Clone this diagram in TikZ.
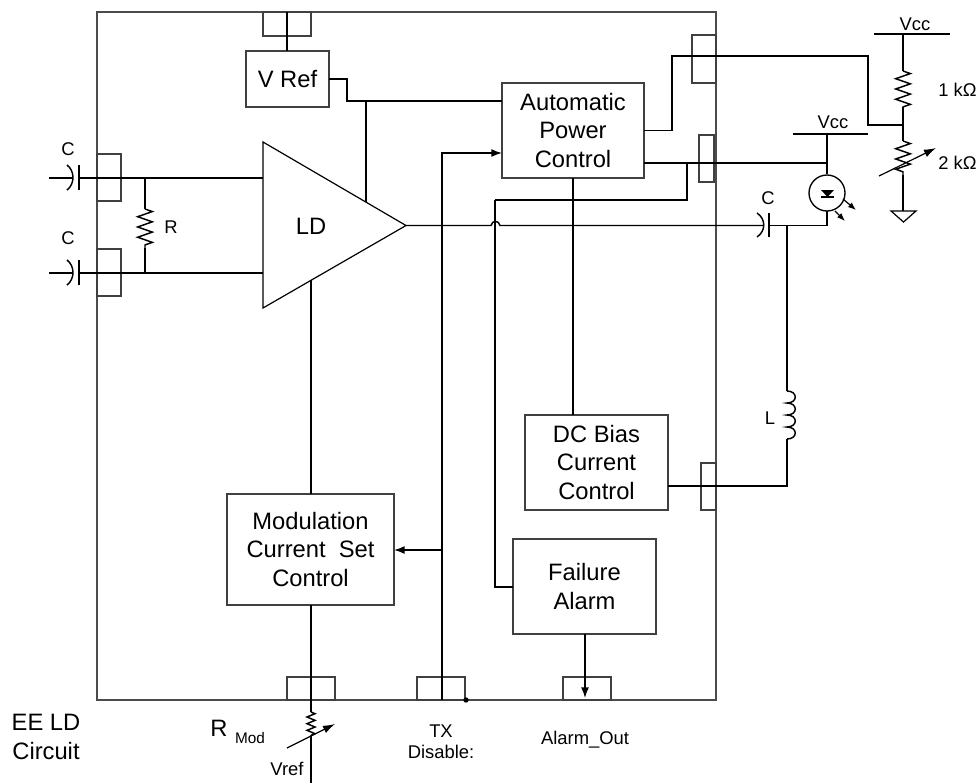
\documentclass[tikz,border=0pt]{standalone}
\usepackage{fontspec}
\setmainfont{Liberation Sans}
\usepackage{tikz}
\usetikzlibrary{arrows.meta}
\usetikzlibrary{positioning}
\usetikzlibrary{decorations.pathmorphing}
\tikzset{
    wire/.style={draw=black, line width=1.1pt},
    chipbox/.style={draw=black!70, line width=.8pt, inner sep=0pt, outer sep=0pt},
    pinbox/.style={draw=black!75, line width=.8pt, inner sep=0pt, outer sep=0pt},
    blockbox/.style={draw=black!75, line width=.9pt, inner sep=0pt, outer sep=0pt, align=center,
        font=\fontsize{17.8}{21.7}\selectfont},
    biglabel/.style={inner sep=0pt, align=center, font=\fontsize{17.8}{21.7}\selectfont},
    smalllabel/.style={inner sep=0pt, align=center, font=\fontsize{13.8}{16}\selectfont},
    resistor/.style={wire, decorate, decoration={zigzag, amplitude=5.5pt, segment length=7.7pt}},
    tinyresistor/.style={wire, decorate, decoration={zigzag, amplitude=3pt, segment length=5pt}},
    signal/.style={wire, -{Latex[length=8pt,width=6pt]}},
    tune/.style={draw=black, line width=.9pt, -{Latex[length=9pt,width=6pt]}},
    glow/.style={draw=black, line width=.9pt, -{Latex[length=6pt,width=4.5pt]}},
}
\begin{document}
\begin{tikzpicture}[x=.75pt,y=-.75pt]
\useasboundingbox (0,0) rectangle (977,783);

% chip outline and pins
\node (chip) [chipbox, minimum width=464.25pt, minimum height=516pt] at (406.5,356) {};
\node (pinTop) [pinbox, minimum width=36pt, minimum height=18pt] at (287,24) {};
\node (pinPwr) [pinbox, minimum width=18pt, minimum height=36pt] at (704,59) {};
\node (pinMon) [pinbox, minimum width=11.25pt, minimum height=35.25pt] at (706.5,158.5) {};
\node (pinBias) [pinbox, minimum width=11.25pt, minimum height=35.25pt] at (708.5,486.5) {};
\node (pinInA) [pinbox, minimum width=18pt, minimum height=35.25pt] at (109,177.5) {};
\node (pinInB) [pinbox, minimum width=18pt, minimum height=35.25pt] at (109,272.5) {};
\node (pinMod) [pinbox, minimum width=36pt, minimum height=17.25pt] at (311,688.5) {};
\node (pinTx) [pinbox, minimum width=36pt, minimum height=17.25pt] at (441,688.5) {};
\node (pinAlarm) [pinbox, minimum width=36pt, minimum height=17.25pt] at (587,688.5) {};

% blocks
\node (vref) [blockbox, minimum width=62.25pt, minimum height=42pt] at (287.5,79) {V Ref};
\node (apc) [blockbox, minimum width=106.5pt, minimum height=71.25pt] at (573,130.5) {Automatic\hspace{3pt}\\Power\hspace{3pt}\\Control\hspace{3pt}};
\node (dcbias) [blockbox, minimum width=107.25pt, minimum height=71.25pt] at (596.5,462.5) {DC Bias\\Current\\Control};
\node (modctl) [blockbox, minimum width=125.25pt, minimum height=83.25pt] at (310.5,549.5) {Modulation\hspace{3pt}\\Current\ \ Set\hspace{3pt}\\Control\hspace{3pt}};
\node (fail) [blockbox, minimum width=107.25pt, minimum height=71.25pt] at (584.5,586.5) {Failure\\Alarm};

% amplifier
\coordinate (ldTop) at (263,142);
\coordinate (ldBot) at (263,308);
\coordinate (ldOut) at (406,225.5);
\draw [draw=black, line width=.9pt] (ldTop) -- (ldBot) -- (ldOut) -- cycle;
\node (ldlabel) [biglabel] at (311,226) {LD};

% junctions
\coordinate (refIn) at (502,101);
\coordinate (refUp) at (366,101);
\coordinate (refLd) at (366,202);
\coordinate (txIn) at (502,153);
\coordinate (txTop) at (442,153);
\coordinate (txBot) at (442,700);
\coordinate (txMod) at (442,550);
\coordinate (ldTap) at (311,280);
\coordinate (rmodTop) at (311,712);
\coordinate (rmodBot) at (311,736);
\coordinate (rmodEnd) at (311,783);
\coordinate (monOut) at (644,163);
\coordinate (monTap) at (687,163);
\coordinate (monLow) at (687,200);
\coordinate (failTop) at (495,200);
\coordinate (failIn) at (513,587);
\coordinate (alarmOut) at (585,634);
\coordinate (alarmTip) at (585,698);
\coordinate (hopA) at (491,225.5);
\coordinate (hopB) at (500,225.5);
\coordinate (capAIn) at (49,178);
\coordinate (capAOut) at (73,178);
\coordinate (capAPl) at (79,178);
\coordinate (capBIn) at (49,273);
\coordinate (capBOut) at (73,273);
\coordinate (capBPl) at (79,273);
\coordinate (ldInA) at (263,178);
\coordinate (ldInB) at (263,273);
\coordinate (rInTop) at (145,178);
\coordinate (rInA) at (145,209);
\coordinate (rInB) at (145,248);
\coordinate (rInBot) at (145,273);
\coordinate (capOutL) at (763,225.5);
\coordinate (capOutR) at (769,225.5);
\coordinate (ledBot) at (827,225.5);
\coordinate (chokeTap) at (787,225.5);
\coordinate (chokeA) at (787,391);
\coordinate (chokeB) at (787,439);
\coordinate (chokeEnd) at (787,486);

% internal wiring
\draw [wire] (pinTop.north) -- (pinTop.north |- vref.north);
\draw [wire] (vref.east) -| (347,101) -- (refIn);
\draw [wire] (refUp) -- (refLd);
\draw [wire] (apc.east) -| (672,56) -| (868,125) -- (903,125);
\draw [wire] (monOut) -- (827,163);
\draw [wire] (monTap) -- (monLow) -- (failTop);
\draw [wire] (failTop) -- (495,587) -- (failIn);
\draw [wire] (apc.south) -- (apc.south |- dcbias.north);
\draw [signal] (txBot) -- (txTop) -- (txIn);
\draw [signal] (txMod) -- (modctl.east |- txMod);
\draw [signal] (alarmOut) -- (alarmTip);
\draw [wire] (ldTap) -- (ldTap |- modctl.north);
\draw [wire] (ldTap |- modctl.south) -- (rmodTop);
\fill (466,700) circle (2pt);

% inputs
\draw [wire] (capAIn) -- (capAOut);
\draw [wire] (capBIn) -- (capBOut);
\draw [wire] (capAPl) -- (ldInA);
\draw [wire] (capBPl) -- (ldInB);
\draw [wire] (79,165) -- (79,190);
\draw [wire] (79,260) -- (79,285);
\draw [wire] (67,165) .. controls (75,171) and (75,184) .. (67,190);
\draw [wire] (67,260) .. controls (75,266) and (75,279) .. (67,285);
\draw [wire] (rInTop) -- (rInA);
\draw [wire] (rInB) -- (rInBot);
\draw [resistor] (rInA) -- (rInB);

% output
\draw [wire] (ldOut) -- (hopA) .. controls (492,220) and (499,220) .. (hopB) -- (capOutL);
\draw [wire] (capOutR) -- (ledBot) -- (827,211);
\draw [wire] (769,213) -- (769,237);
\draw [wire] (757,213) .. controls (766,219) and (766,231) .. (757,237);
\draw [wire] (chokeTap) -- (chokeA);
\draw [wire] (chokeB) -- (chokeEnd) -- (dcbias.east |- chokeEnd);
\draw [wire] (chokeA) .. controls (798,391) and (798,403) .. (787,403)
    .. controls (798,403) and (798,415) .. (787,415)
    .. controls (798,415) and (798,427) .. (787,427)
    .. controls (798,427) and (798,439) .. (chokeB);

% laser diode
\node (led) [draw=black, line width=1pt, circle, minimum size=27pt, inner sep=0pt] at (827,193) {};
\draw [wire] (827,134) -- (led.north);
\draw [wire] (793,134) -- (868,134);
\fill (821,190) -- (834,190) -- (827.5,197) -- cycle;
\draw [line width=1pt] (821,197) -- (834,197);
\draw [glow] (843,199) -- (856,210);
\draw [glow] (835,211) -- (845,221);

% bias divider
\draw [wire] (874,34) -- (950,34);
\draw [wire] (903,34) -- (903,71);
\draw [resistor] (903,71) -- (903,107);
\draw [wire] (903,107) -- (903,141);
\draw [resistor] (903,141) -- (903,175);
\draw [wire] (903,175) -- (903,211);
\draw [draw=black, line width=.9pt] (891,211) -- (916,211) -- (903.5,222) -- cycle;
\draw [tune] (879,176) -- (936,148);

% mod resistor
\draw [tinyresistor] (rmodTop) -- (rmodBot);
\draw [wire] (rmodBot) -- (rmodEnd);
\draw [tune] (287,748) -- (335,724);

% labels
\node (vccA) [smalllabel] at (915,24) {Vcc};
\node (vccB) [smalllabel] at (833,122) {Vcc};
\node (kA) [smalllabel, anchor=west] at (938,90) {1 kΩ};
\node (kB) [smalllabel, anchor=west] at (938,163) {2 kΩ};
\node (cOut) [smalllabel] at (768,198) {C};
\node (cA) [smalllabel] at (68,149) {C};
\node (cB) [smalllabel] at (68,238) {C};
\node (rlabel) [smalllabel] at (171,227) {R};
\node (llabel) [smalllabel] at (770,418) {L};
\node (eeld) [biglabel] at (46,737) {EE LD\\Circuit};
\node (rmod) [biglabel] at (219,728) {R};
\node (rmodsub) [font=\fontsize{11.5}{14}\selectfont, inner sep=0pt] at (250,738) {Mod};
\node (vreflabel) [smalllabel] at (287,769) {Vref};
\node (txlabel) [smalllabel] at (441,742) {TX\\Disable:};
\node (alarmlabel) [smalllabel] at (585,740) {Alarm\_Out};
\end{tikzpicture}
\end{document}
